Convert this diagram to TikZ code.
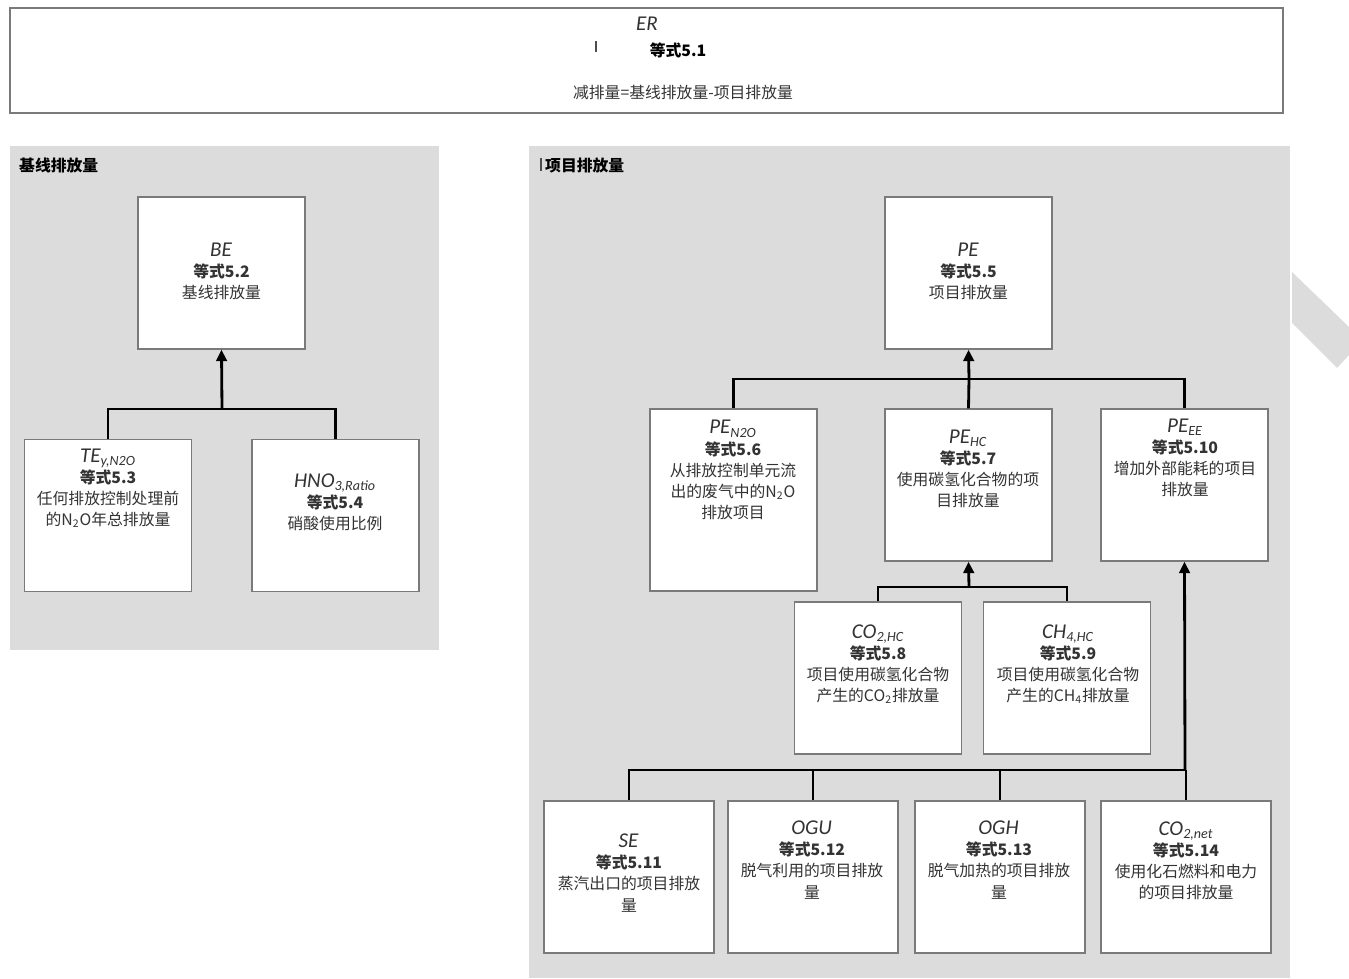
\documentclass[tikz,border=0pt]{standalone}
\usepackage{fontspec}
\setmainfont{Noto Sans CJK SC}
\newfontfamily\varfont{Carlito}
\usepackage{tikz}
\usetikzlibrary{arrows.meta}
\definecolor{panel}{HTML}{DCDCDC}
\definecolor{edge}{HTML}{7A7A7A}
\newcommand{\ivar}[2]{{\varfont\itshape\fontsize{12}{12}\selectfont #1\textsubscript{#2}}}
\newcommand{\eqn}[1]{\textbf{等式#1}}

\begin{document}
\begin{tikzpicture}[x=0.02cm,y=-0.02cm,
	box/.style={draw=edge,fill=white,line width=0.8pt,minimum width=3.34cm,minimum height=3.04cm,inner sep=0pt},
	txt/.style={align=center,text=black!80,font=\fontsize{9}{12}\selectfont},
	link/.style={line width=1.6pt},
	up/.style={link,-{Triangle[length=6.5pt,width=6pt]}}]
		\useasboundingbox (0,0) rectangle (1349,978);
		%panels
		\fill[panel] (10,146) rectangle (439,650);
		\fill[panel] (529,146) rectangle (1290,978);
		\fill[panel] (1292,272) -- (1349,327) -- (1349,355) -- (1337,368) -- (1292,323) -- cycle;
		\node[draw=edge,line width=1pt,minimum width=25.46cm,minimum height=2.1cm] (er) at (646.5,60.5) {};
		\node[txt,font=\varfont\itshape\fontsize{12}{12}\selectfont] (er-v) at (647,24) {ER};
		\node[txt,text=black] (er-e) at (678,50) {\eqn{5.1}};
		\node[txt] (er-t) at (683,93) {减排量=基线排放量-项目排放量};
		\draw[black!70,line width=0.6pt] (596,41) -- (596,52);
		\node[txt,text=black,anchor=west,font=\bfseries\fontsize{9}{12}\selectfont] (bl) at (13,165) {基线排放量};
		\draw[black!70,line width=0.6pt] (541,158) -- (541,171);
		\node[txt,text=black,anchor=west,font=\bfseries\fontsize{9}{12}\selectfont] (pj) at (539,165) {项目排放量};
		%baseline side
		\node[box] (be) at (221.5,273) {};
		\node[box] (te) at (108,515.5) {};
		\node[box] (hno) at (335.5,515.5) {};
		\node[txt] (be-t) at (221.5,271) {\ivar{BE}{}\\\eqn{5.2}\\基线排放量};
		\node[txt] (te-t) at (108,488) {\ivar{TE}{y,N2O}\\\eqn{5.3}\\任何排放控制处理前\\的N\textsubscript{2}O年总排放量};
		\node[txt] (hno-t) at (335,502) {\ivar{HNO}{3,Ratio}\\\eqn{5.4}\\硝酸使用比例};
		\coordinate (bj) at (222,409);
		\draw[link] (te.north) |- (bj) -| (hno.north);
		\draw[up] (bj) -- (be.south);
		%project side
		\node[box] (pe) at (968.5,273) {};
		\node[box,minimum height=3.64cm] (pen) at (733.5,500) {};
		\node[box] (phc) at (968.5,485) {};
		\node[box] (pee) at (1184.5,485) {};
		\node[box] (co2) at (878,678) {};
		\node[box] (ch4) at (1067,678) {};
		\node[box,minimum width=3.4cm] (se) at (629,877) {};
		\node[box,minimum width=3.4cm] (ogu) at (813,877) {};
		\node[box,minimum width=3.4cm] (ogh) at (1000,877) {};
		\node[box,minimum width=3.4cm] (net) at (1186,877) {};
		\node[txt] (pe-t) at (968.5,271) {\ivar{PE}{}\\\eqn{5.5}\\项目排放量};
		\node[txt] (pen-t) at (733,470) {\ivar{PE}{N2O}\\\eqn{5.6}\\从排放控制单元流\\出的废气中的N\textsubscript{2}O\\排放项目};
		\node[txt] (phc-t) at (968,469) {\ivar{PE}{HC}\\\eqn{5.7}\\使用碳氢化合物的项\\目排放量};
		\node[txt] (pee-t) at (1185,458) {\ivar{PE}{EE}\\\eqn{5.10}\\增加外部能耗的项目\\排放量};
		\node[txt] (co2-t) at (878,664) {\ivar{CO}{2,HC}\\\eqn{5.8}\\项目使用碳氢化合物\\产生的CO\textsubscript{2}排放量};
		\node[txt] (ch4-t) at (1068,664) {\ivar{CH}{4,HC}\\\eqn{5.9}\\项目使用碳氢化合物\\产生的CH\textsubscript{4}排放量};
		\node[txt] (se-t) at (629,873) {\ivar{SE}{}\\\eqn{5.11}\\蒸汽出口的项目排放\\量};
		\node[txt] (ogu-t) at (812,860) {\ivar{OGU}{}\\\eqn{5.12}\\脱气利用的项目排放\\量};
		\node[txt] (ogh-t) at (999,860) {\ivar{OGH}{}\\\eqn{5.13}\\脱气加热的项目排放\\量};
		\node[txt] (net-t) at (1186,861) {\ivar{CO}{2,net}\\\eqn{5.14}\\使用化石燃料和电力\\的项目排放量};
		\coordinate (pj1) at (969,379);
		\draw[link] (pen.north) |- (pj1) -| (pee.north);
		\draw[link] (phc.north) -- (pj1);
		\draw[up] (pj1) -- (pe.south);
		\coordinate (pj2) at (969,587);
		\draw[link] (co2.north) |- (pj2) -| (ch4.north);
		\draw[up] (pj2) -- (phc.south);
		\coordinate (pj3) at (1185,770);
		\draw[link] (se.north) |- (pj3);
		\foreach \n in {ogu,ogh,net}
			\draw[link] (\n.north) -- (\n.north |- pj3);
		\draw[up] (pj3) -- (pee.south);
\end{tikzpicture}
\end{document}
